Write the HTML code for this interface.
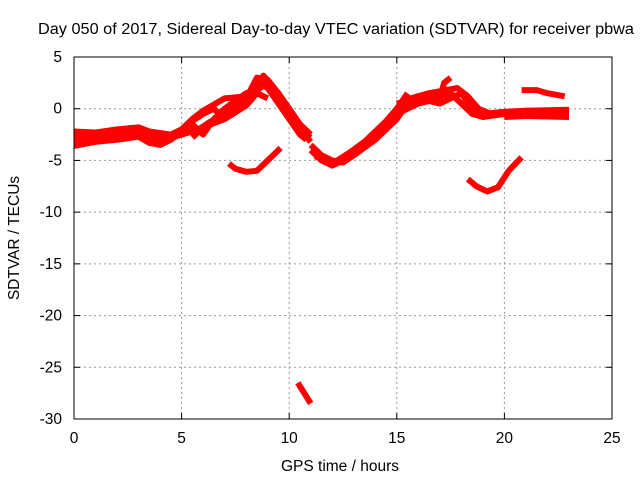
<!DOCTYPE html>
<html><head><meta charset="utf-8"><style>
body{margin:0;background:#fff;}
svg text{font-family:"Liberation Sans",sans-serif;font-size:15.5px;fill:#000;}
</style></head><body>
<svg id="chart" width="640" height="480">
<text x="38" y="34" textLength="596" lengthAdjust="spacingAndGlyphs">Day 050 of 2017, Sidereal Day-to-day VTEC variation (SDTVAR) for receiver pbwa</text>
<text x="340" y="471" text-anchor="middle">GPS time / hours</text>
<text transform="translate(19,238) rotate(-90)" text-anchor="middle">SDTVAR / TECUs</text>
<g id="grid"></g><g id="series"></g><g id="axes"></g>
</svg>
<script>
const xTicks=[0,5,10,15,20,25];
const yTicks=[5,0,-5,-10,-15,-20,-25,-30];
const traceA=[[0,-2.2],[1,-2.3],[2,-2],[3,-1.8],[3.5,-2.2],[4.5,-2.5],[5,-2],[5.5,-1],[6,-0.2],[7,1],[8,1.2],[8.6,2.5],[9,2],[9.5,0.5],[10,-1],[10.5,-2.5],[10.8,-3]];
const traceB=[[0,-3.6],[1,-3.2],[2,-3],[3,-2.7],[3.5,-3.3],[4,-3.5],[4.5,-3],[5,-2.2],[5.5,-1.5],[6,-2.5],[6.5,-1],[7,0],[8,1.5],[8.5,1.8],[9,2.5],[9.5,1],[10,-1],[10.5,-2],[11,-3.2]];
const traceC=[[0,-3],[1,-2.7],[2,-2.5],[3,-2],[4,-2.8],[5,-2.3],[5.5,-1.2],[6,-0.5],[6.5,0],[7,-1],[7.5,0.3],[8,1],[8.5,3],[9,2.8],[9.5,1.5],[10,0],[10.5,-1.5],[11,-2.5]];
const traceD=[[5.5,-2.8],[6,-1.8],[7,-1],[8,0.3],[8.5,1.5],[9,1]];
const traceN=[[0,-2.6],[1,-2.9],[2,-2.3],[2.5,-2.6],[3,-2.3],[3.6,-2.8],[4.2,-3],[5,-2.5],[5.8,-2],[6.3,-1.3],[7.2,-0.2],[7.8,0.6],[8.3,1.4],[8.8,3.2],[9.3,2],[9.8,0.2],[10.3,-1.8],[11,-2.8]];
const traceE=[[11,-3.5],[11.5,-4.5],[12,-5],[12.5,-5.2],[13,-4.5],[14,-3],[15,-1],[15.5,0.5],[16,1],[17,1.2],[17.5,1.5],[18,0.5],[18.5,-0.5],[19,-0.8],[20,-0.5],[21,-0.5],[23,-0.5]];
const traceF=[[11,-4],[11.5,-5],[12,-5.5],[12.5,-5],[13.5,-3.5],[14.5,-2],[15,-0.5],[15.5,0],[16,0.5],[17,1],[17.2,2.5],[17.5,3]];
const traceG=[[12.5,-4.7],[13.5,-3.2],[14.5,-1.2],[15,0],[15.5,1.5]];
const traceO=[[11.2,-4.6],[12,-5.3],[13,-4],[14,-2.4],[14.8,-1],[15.3,0.8],[16.5,1.5],[17.3,1.8],[17.8,2],[18.3,1.2],[18.8,0],[19.5,-0.6],[21,-0.2],[23,-0.1]];
const traceH=[[15,0.5],[16,1],[17,0.5],[18,1.5],[18.5,0],[19,-0.5],[20,-0.3],[21,-0.2],[23,-0.3]];
const traceI=[[20,-0.8],[21,-0.7],[23,-0.8]];
const traceJ=[[20.8,1.8],[21.5,1.8],[22,1.5],[22.8,1.2]];
const traceK=[[7.2,-5.3],[7.5,-5.8],[8,-6.1],[8.5,-6],[9,-5],[9.6,-3.8]];
const traceL=[[18.3,-6.8],[18.7,-7.5],[19.2,-8],[19.7,-7.6],[20.2,-6],[20.8,-4.7]];
const traceM=[[10.4,-26.5],[10.7,-27.5],[11,-28.5]];
const traces=[traceA,traceB,traceC,traceD,traceN,traceE,traceF,traceG,traceO,traceH,traceI,traceJ,traceK,traceL,traceM];

const L=74,R=612,T=57,B=419;
const xs=h=>L+(h-0)/25*(R-L);
const ys=v=>T+(5-v)/35*(B-T);
const NS="http://www.w3.org/2000/svg";
function mk(tag,parent,attrs){const e=document.createElementNS(NS,tag);for(const k in attrs)e.setAttribute(k,attrs[k]);parent.appendChild(e);return e;}
const grid=document.getElementById('grid'),axes=document.getElementById('axes'),ser=document.getElementById('series');
xTicks.forEach(t=>{
  const x=xs(t);
  if(t>0&&t<25){const g=mk('line',grid,{x1:x,x2:x,y1:T,y2:B,stroke:'#999','stroke-dasharray':'2,3'});
  
  }
  mk('line',axes,{x1:x,x2:x,y1:B,y2:B-6,stroke:'#000'});
  mk('line',axes,{x1:x,x2:x,y1:T,y2:T+6,stroke:'#000'});
  const tx=mk('text',axes,{x:x,y:B+24,'text-anchor':'middle'});tx.textContent=t;
  
  
});
yTicks.forEach(t=>{
  const y=ys(t);
  if(t<5&&t>-30){const g=mk('line',grid,{x1:L,x2:R,y1:y,y2:y,stroke:'#999','stroke-dasharray':'2,3'});
  
  }
  mk('line',axes,{x1:L,x2:L+6,y1:y,y2:y,stroke:'#000'});
  mk('line',axes,{x1:R,x2:R-6,y1:y,y2:y,stroke:'#000'});
  const tx=mk('text',axes,{x:L-12,y:y+5,'text-anchor':'end'});tx.textContent=t;
  
  
});
const fr=mk('rect',axes,{x:L,y:T,width:R-L,height:B-T,fill:'none',stroke:'#000'});


traces.forEach(tr=>{
  const p=mk('polyline',ser,{points:tr.map(d=>xs(d[0])+','+ys(d[1])).join(' '),fill:'none',stroke:'#f00','stroke-width':6,'stroke-linejoin':'round'});
  
  
});
</script>
</body></html>
